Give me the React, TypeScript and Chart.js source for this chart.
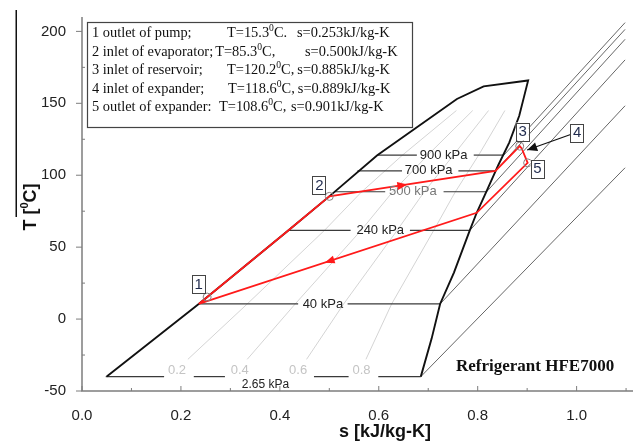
import React, { useEffect, useRef } from "react";
import { Chart, registerables } from "chart.js";

Chart.register(...registerables);

// ---------- axis ticks ----------
const xMajorTicks = [0, 0.2, 0.4, 0.6, 0.8, 1.0];
const xMinorTicks = [0.1, 0.3, 0.5, 0.7, 0.9, 1.1];
const yMajorTicks = [-50, 0, 50, 100, 150, 200];
const yMinorTicks = [-25, 25, 75, 125, 175];

// ---------- saturation dome ----------
const liquidS = [0.05, 0.236, 0.417, 0.5, 0.597, 0.758, 0.812, 0.902];
const liquidT = [-40, 10.5, 61.6, 85.3, 113.9, 153, 161.8, 165.9];
const vaporS = [0.902, 0.894, 0.884, 0.864, 0.842, 0.818, 0.798, 0.784, 0.752, 0.724, 0.707, 0.685];
const vaporT = [165.9, 155, 141.3, 122.9, 107.3, 88.9, 73.9, 61.6, 32.3, 10.5, -13.4, -40];

// ---------- isobars (two-phase part, pieces between label gaps) ----------
const isobarLabels = ["2.65 kPa", "40 kPa", "240 kPa", "500 kPa", "700 kPa", "900 kPa"];
const isobarT = [-40, 10.5, 61.6, 88.5, 103, 114];
const isobarPieces = [
  [0.048, 0.166, 0.226, 0.289, 0.469, 0.539, 0.599, 0.685],
  [0.236, 0.437, 0.537, 0.724],
  [0.417, 0.543, 0.663, 0.784],
  [0.51, 0.613, 0.731, 0.818],
  [0.557, 0.647, 0.761, 0.836],
  [0.597, 0.677, 0.792, 0.853],
];
const isobarLabelS = [0.371, 0.487, 0.603, 0.669, 0.701, 0.731];
const isobarLabelT = [-45.4, 10.5, 61.6, 88.5, 103, 114];
const isobarLabelColors = ["#222", "#222", "#222", "#777", "#222", "#222"];

// superheated continuation of the isobars
const superStartS = [0.685, 0.724, 0.784, 0.818, 0.836, 0.853];
const superStartT = [-40, 10.5, 61.6, 88.5, 103, 114];
const superEndS = [1.098, 1.098, 1.098, 1.098, 1.098, 1.098];
const superEndT = [105.2, 148.3, 180.2, 194.5, 201.4, 206.1];

// ---------- constant-quality lines ----------
const qualityLabels = ["0.2", "0.4", "0.6", "0.8"];
const qualityT = [-28, 10.5, 61.6, 88, 114, 145];
const quality02 = [0.214, 0.334, 0.49, 0.564, 0.648, 0.757];
const quality04 = [0.334, 0.431, 0.564, 0.627, 0.699, 0.79];
const quality06 = [0.454, 0.529, 0.637, 0.691, 0.751, 0.822];
const quality08 = [0.574, 0.626, 0.711, 0.754, 0.802, 0.855];
const qualityLabelS = [0.192, 0.319, 0.437, 0.565];
const qualityLabelT = [-36, -36, -36, -36];

// ---------- cycle ----------
const cycleS = [0.236, 0.417, 0.5, 0.836, 0.885, 0.889, 0.901, 0.798, 0.236];
const cycleT = [10.5, 61.6, 85.3, 103, 120.2, 118.6, 108.6, 73.9, 10.5];
const cycleArrowSeg = [2, 7];
const cycleArrowFrac = [0.44, 0.53];

const stateNames = ["1", "2", "3", "4", "5"];
const stateS = [0.253, 0.5, 0.885, 0.889, 0.901];
const stateT = [15.3, 85.3, 120.2, 118.6, 108.6];
const circledStates = [0, 1, 2, 4];
const tagS = [0.235, 0.479, 0.89, 1.0, 0.92];
const tagT = [24.1, 93.0, 130.4, 129.7, 104.6];
const pointerTipS = 0.9;
const pointerTipT = 117.5;

// ---------- legend text ----------
const legendName = [
  "1 outlet of pump;",
  "2 inlet of evaporator;",
  "3 inlet of reservoir;",
  "4 inlet of expander;",
  "5 outlet of expander:",
];
const legendTemp = ["T=15.3⁰C.", "T=85.3⁰C,", "T=120.2⁰C,", "T=118.6⁰C,", "T=108.6⁰C,"];
const legendEnt = [
  "s=0.253kJ/kg-K",
  "s=0.500kJ/kg-K",
  "s=0.885kJ/kg-K",
  "s=0.889kJ/kg-K",
  "s=0.901kJ/kg-K",
];

const SANS = "Arial, 'Liberation Sans', Helvetica, sans-serif";
const SERIF = "'Times New Roman', 'Liberation Serif', serif";

function pts(sArr: number[], tArr: number[]) {
  return sArr.map((s, i) => ({ x: s, y: tArr[i] }));
}

function measureRich(ctx: CanvasRenderingContext2D, text: string, font: string, supFont: string) {
  const parts = text.split("⁰");
  let w = 0;
  parts.forEach((p, i) => {
    ctx.font = font;
    w += ctx.measureText(p).width;
    if (i < parts.length - 1) {
      ctx.font = supFont;
      w += ctx.measureText("0").width;
    }
  });
  return w;
}

function drawRich(
  ctx: CanvasRenderingContext2D,
  text: string,
  x: number,
  y: number,
  font: string,
  supFont: string,
  rise: number
) {
  const parts = text.split("⁰");
  let cx = x;
  ctx.textAlign = "left";
  parts.forEach((p, i) => {
    ctx.font = font;
    ctx.fillText(p, cx, y);
    cx += ctx.measureText(p).width;
    if (i < parts.length - 1) {
      ctx.font = supFont;
      ctx.fillText("0", cx, y - rise);
      cx += ctx.measureText("0").width;
    }
  });
}

// draw with a fixed horizontal condensing factor; returns the right edge
function drawCondensed(
  ctx: CanvasRenderingContext2D,
  text: string,
  x: number,
  y: number,
  f: number,
  font: string,
  supFont: string,
  rise: number
) {
  const w = measureRich(ctx, text, font, supFont);
  ctx.save();
  ctx.translate(x, y);
  ctx.scale(f, 1);
  drawRich(ctx, text, 0, 0, font, supFont, rise);
  ctx.restore();
  return x + w * f;
}

function arrowHead(ctx: CanvasRenderingContext2D, x: number, y: number, ang: number, len: number, half: number) {
  ctx.beginPath();
  ctx.moveTo(x + Math.cos(ang) * len * 0.5, y + Math.sin(ang) * len * 0.5);
  const bx = x - Math.cos(ang) * len * 0.5;
  const by = y - Math.sin(ang) * len * 0.5;
  ctx.lineTo(bx - Math.sin(ang) * half, by + Math.cos(ang) * half);
  ctx.lineTo(bx + Math.sin(ang) * half, by - Math.cos(ang) * half);
  ctx.closePath();
  ctx.fill();
}

const overlayPlugin = {
  id: "overlay",
  afterDatasetsDraw(chart: any) {
    const { ctx, chartArea: ca } = chart;
    const xs = chart.scales.x;
    const ys = chart.scales.y;
    const px = (v: number) => xs.getPixelForValue(v);
    const py = (v: number) => ys.getPixelForValue(v);
    ctx.save();
    ctx.textBaseline = "middle";

    // axes lines and ticks
    ctx.strokeStyle = "#7d7d7d";
    ctx.lineWidth = 1.5;
    ctx.beginPath();
    ctx.moveTo(ca.left, ca.top);
    ctx.lineTo(ca.left, ca.bottom);
    ctx.lineTo(ca.right, ca.bottom);
    ctx.stroke();
    ctx.lineWidth = 1;
    ctx.beginPath();
    yMajorTicks.forEach((v) => {
      const y = py(v);
      ctx.moveTo(ca.left - 6, y);
      ctx.lineTo(ca.left, y);
    });
    yMinorTicks.forEach((v) => {
      const y = py(v);
      ctx.moveTo(ca.left, y);
      ctx.lineTo(ca.left + 3, y);
    });
    xMajorTicks.forEach((v) => {
      const x = px(v);
      ctx.moveTo(x, ca.bottom);
      ctx.lineTo(x, ca.bottom - 5);
    });
    xMinorTicks.forEach((v) => {
      const x = px(v);
      ctx.moveTo(x, ca.bottom);
      ctx.lineTo(x, ca.bottom - 3);
    });
    ctx.stroke();

    // quality labels
    ctx.textAlign = "center";
    ctx.font = `13px ${SANS}`;
    ctx.fillStyle = "#c4c4c4";
    qualityLabels.forEach((t, i) => ctx.fillText(t, px(qualityLabelS[i]), py(qualityLabelT[i])));

    // isobar labels
    isobarLabels.forEach((t, i) => {
      ctx.font = i === 0 ? `12px ${SANS}` : `13px ${SANS}`;
      ctx.fillStyle = isobarLabelColors[i];
      ctx.fillText(t, px(isobarLabelS[i]), py(isobarLabelT[i]));
    });

    // cycle direction arrows
    ctx.fillStyle = "#ff1a1a";
    cycleArrowSeg.forEach((seg, i) => {
      const x0 = px(cycleS[seg]), y0 = py(cycleT[seg]);
      const x1 = px(cycleS[seg + 1]), y1 = py(cycleT[seg + 1]);
      const f = cycleArrowFrac[i];
      const ang = Math.atan2(y1 - y0, x1 - x0);
      arrowHead(ctx, x0 + (x1 - x0) * f, y0 + (y1 - y0) * f, ang, 10, 4);
    });

    // pointer from tag 4
    const tailX = px(tagS[3]) - 6;
    const tailY = py(tagT[3]) + 2;
    const tipX = px(pointerTipS);
    const tipY = py(pointerTipT);
    ctx.strokeStyle = "#111";
    ctx.fillStyle = "#111";
    ctx.lineWidth = 1.2;
    ctx.beginPath();
    ctx.moveTo(tailX, tailY);
    ctx.lineTo(tipX, tipY);
    ctx.stroke();
    const pang = Math.atan2(tipY - tailY, tipX - tailX);
    arrowHead(ctx, tipX - Math.cos(pang) * 5, tipY - Math.sin(pang) * 5, pang, 10, 4.5);

    // state tags
    stateNames.forEach((n, i) => {
      const x = px(tagS[i]);
      const y = py(tagT[i]);
      ctx.fillStyle = "#fff";
      ctx.fillRect(x - 6.5, y - 9, 13, 18);
      ctx.strokeStyle = "#444";
      ctx.lineWidth = 1;
      ctx.strokeRect(Math.round(x - 6.5) + 0.5, Math.round(y - 9) + 0.5, 13, 18);
      ctx.fillStyle = "#1f2a4d";
      ctx.font = `15px ${SANS}`;
      ctx.textAlign = "center";
      ctx.fillText(n, x + 0.5, y + 0.5);
    });

    // legend box
    ctx.fillStyle = "#fff";
    ctx.fillRect(87, 22, 325, 105);
    ctx.strokeStyle = "#444";
    ctx.lineWidth = 1.2;
    ctx.strokeRect(87.5, 22.5, 325, 105);
    ctx.fillStyle = "#111";
    const lf = `15px ${SERIF}`;
    const sf = `10px ${SERIF}`;
    const cf = 0.96;
    const tempX = [227, 214, 227, 228, 219];
    const entX = [297, 305, 291, 291, 291];
    legendName.forEach((n, i) => {
      const y = 33.5 + i * 18.5;
      const e1 = drawCondensed(ctx, n, 92, y, cf, lf, sf, 5);
      const e2 = drawCondensed(ctx, legendTemp[i], Math.max(tempX[i], e1 + 2), y, cf, lf, sf, 5);
      drawCondensed(ctx, legendEnt[i], Math.max(entX[i], e2 + 3), y, cf, lf, sf, 5);
    });

    // refrigerant label
    ctx.fillStyle = "#111";
    drawCondensed(ctx, "Refrigerant HFE7000", 456, 367, 1.0, `bold 17px ${SERIF}`, `bold 10px ${SERIF}`, 5);

    // axis titles
    ctx.fillStyle = "#111";
    const tf = `bold 18px ${SANS}`;
    const tsf = `bold 11px ${SANS}`;
    ctx.font = tf;
    ctx.textAlign = "center";
    ctx.fillText("s [kJ/kg-K]", 385, 432);
    const yt = "T [⁰C]";
    const yw = measureRich(ctx, yt, tf, tsf);
    ctx.save();
    ctx.translate(31, 207);
    ctx.rotate(-Math.PI / 2);
    drawRich(ctx, yt, -yw / 2, 0, tf, tsf, 6);
    ctx.restore();

    // stray vertical rule at the far left of the figure
    ctx.fillStyle = "#111";
    ctx.fillRect(15.5, 10, 1.5, 207);

    ctx.restore();
  },
};

function buildDatasets() {
  const bottomToTop: any[] = [];
  const line = (data: any[], color: string, width: number) => ({
    data,
    showLine: true,
    borderColor: color,
    borderWidth: width,
    pointRadius: 0,
    fill: false,
  });
  [quality02, quality04, quality06, quality08].forEach((q) =>
    bottomToTop.push(line(pts(q, qualityT), "#d4d4d4", 1))
  );
  superStartS.forEach((s, i) =>
    bottomToTop.push(
      line(
        [
          { x: s, y: superStartT[i] },
          { x: superEndS[i], y: superEndT[i] },
        ],
        "#666",
        1
      )
    )
  );
  isobarPieces.forEach((pieces, i) => {
    for (let k = 0; k < pieces.length; k += 2) {
      bottomToTop.push(
        line(
          [
            { x: pieces[k], y: isobarT[i] },
            { x: pieces[k + 1], y: isobarT[i] },
          ],
          "#3a3a3a",
          1.2
        )
      );
    }
  });
  bottomToTop.push(line(pts(liquidS.concat(vaporS.slice(1)), liquidT.concat(vaporT.slice(1))), "#111", 1.9));
  bottomToTop.push(line(pts(cycleS, cycleT), "#ff1a1a", 1.8));
  bottomToTop.push({
    data: circledStates.map((i) => ({ x: stateS[i], y: stateT[i] })),
    showLine: false,
    pointRadius: 4,
    pointBorderWidth: 1,
    pointBorderColor: "#8a7f7f",
    pointBackgroundColor: "rgba(0,0,0,0)",
  });
  return bottomToTop.reverse();
}

export default function App() {
  const ref = useRef<HTMLCanvasElement>(null);
  useEffect(() => {
    if (!ref.current) return;
    const chart = new Chart(ref.current, {
      type: "scatter",
      data: { datasets: buildDatasets() },
      options: {
        responsive: false,
        animation: false,
        devicePixelRatio: 1,
        layout: { padding: { top: 9, right: 0, left: 0, bottom: 0 } },
        plugins: { legend: { display: false }, tooltip: { enabled: false } },
        events: [],
        scales: {
          x: {
            type: "linear",
            min: 0,
            max: 1.114,
            grid: { display: false },
            border: { display: false },
            ticks: {
              font: { family: SANS, size: 15 },
              color: "#222",
              padding: 8,
              maxRotation: 0,
              autoSkip: false,
              callback: (v: any) => Number(v).toFixed(1),
            },
            afterBuildTicks: (s: any) => {
              s.ticks = xMajorTicks.map((v) => ({ value: v }));
            },
            afterFit: (s: any) => {
              s.height = 55;
            },
          },
          y: {
            type: "linear",
            min: -50,
            max: 210,
            grid: { display: false },
            border: { display: false },
            ticks: {
              font: { family: SANS, size: 15 },
              color: "#222",
              padding: 8,
              autoSkip: false,
              callback: (v: any) => String(v),
            },
            afterBuildTicks: (s: any) => {
              s.ticks = yMajorTicks.map((v) => ({ value: v }));
            },
            afterFit: (s: any) => {
              s.width = 82;
            },
          },
        },
      } as any,
      plugins: [overlayPlugin],
    });
    return () => chart.destroy();
  }, []);
  return (
    <div style={{ position: "fixed", left: 0, top: 0, width: 638, height: 446, background: "#fff" }}>
      <canvas ref={ref} width={638} height={446} style={{ display: "block", width: 638, height: 446 }} />
    </div>
  );
}
